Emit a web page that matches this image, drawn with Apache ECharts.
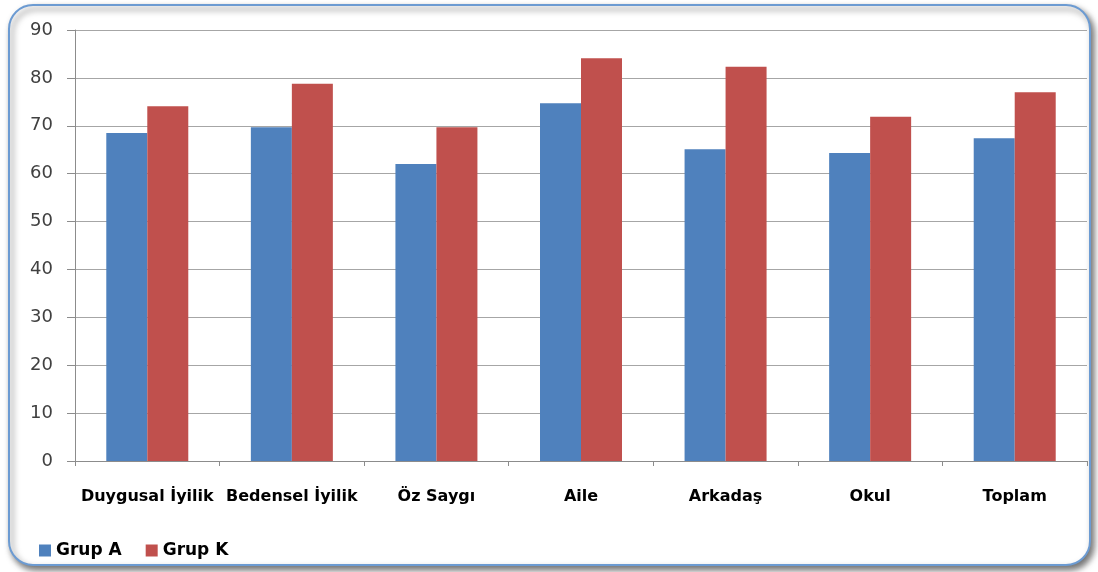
<!DOCTYPE html>
<html>
<head>
<meta charset="utf-8">
<script src="https://cdn.jsdelivr.net/npm/echarts@6/dist/echarts.min.js"></script>
<style>
  html, body { margin: 0; padding: 0; background: #fff; }
  #chart { width: 1098px; height: 572px; }
</style>
</head>
<body>
<div id="chart"></div>
<script>
// kategoriler ve seri degerleri
var categories = ['Duygusal İyilik', 'Bedensel İyilik', 'Öz Saygı', 'Aile', 'Arkadaş', 'Okul', 'Toplam'];
var grupA = [68.5, 69.7, 62.0, 74.7, 65.1, 64.3, 67.4];
var grupK = [74.1, 78.8, 69.7, 84.1, 82.3, 71.9, 77.0];
var seriesNames = ['Grup A', 'Grup K'];

var FONT = 'DejaVu Sans, Verdana, sans-serif';

var chart = echarts.init(document.getElementById('chart'), null, { renderer: 'canvas' });

chart.setOption({
  animation: false,
  backgroundColor: '#ffffff',
  textStyle: { fontFamily: FONT },
  graphic: [{
    type: 'rect',
    z: -10,
    silent: true,
    shape: { x: 9, y: 5, width: 1081, height: 560, r: 24 },
    style: {
      fill: '#ffffff',
      stroke: '#6C9BD2',
      lineWidth: 2,
      shadowBlur: 6,
      shadowOffsetX: 3,
      shadowOffsetY: 4,
      shadowColor: 'rgba(0,0,0,0.55)'
    }
  }],
  legend: {
    left: 34,
    top: 537,
    itemWidth: 12,
    itemHeight: 12,
    itemGap: 24,
    icon: 'rect',
    textStyle: { fontFamily: FONT, fontSize: 17, fontWeight: 'bold', color: '#000' },
    data: seriesNames
  },
  grid: { left: 75, right: 11, top: 30, bottom: 111, containLabel: false },
  xAxis: {
    type: 'category',
    data: categories,
    axisLine: { lineStyle: { color: '#8C8C8C', width: 1 } },
    axisTick: { show: true, interval: 0, length: 5, lineStyle: { color: '#8C8C8C' } },
    axisLabel: {
      interval: 0, hideOverlap: false, margin: 28,
      fontFamily: FONT, fontSize: 16, fontWeight: 'bold', color: '#000'
    }
  },
  yAxis: {
    type: 'value',
    min: 0,
    max: 90,
    interval: 10,
    axisLine: { show: true, lineStyle: { color: '#8C8C8C', width: 1 } },
    axisTick: { show: true, length: 8, lineStyle: { color: '#8C8C8C' } },
    splitLine: { lineStyle: { color: '#A6A6A6', width: 1 } },
    axisLabel: { margin: 22, fontFamily: FONT, fontSize: 18, color: '#404040' }
  },
  series: [{
    name: seriesNames[0],
    type: 'bar',
    data: grupA,
    barWidth: 41,
    barGap: '0%',
    itemStyle: { color: '#4F81BD' }
  }, {
    name: seriesNames[1],
    type: 'bar',
    data: grupK,
    barWidth: 41,
    barGap: '0%',
    itemStyle: { color: '#C0504D' }
  }]
});
</script>
</body>
</html>
